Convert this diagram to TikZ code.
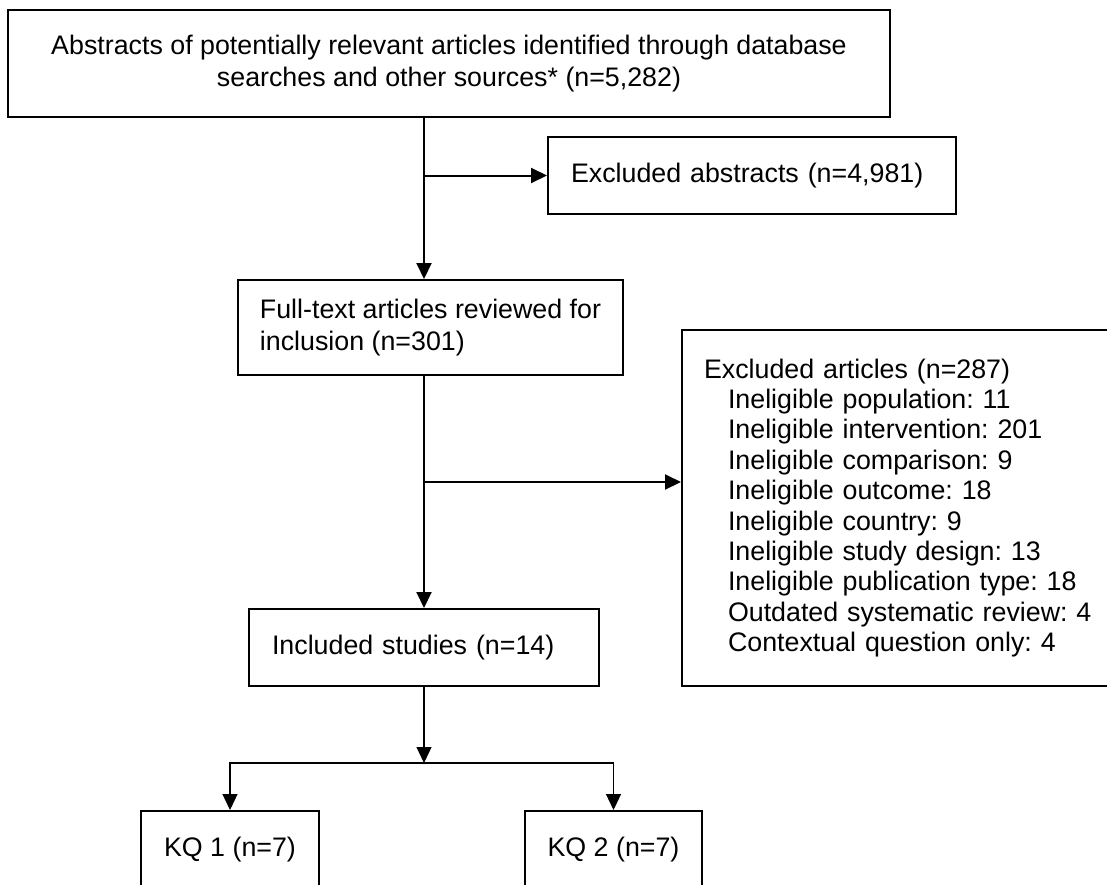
\documentclass[tikz,border=0pt]{standalone}
\usepackage{fontspec}
\setmainfont{Liberation Sans}
\usetikzlibrary{positioning}
\usetikzlibrary{calc}
\usetikzlibrary{arrows.meta}
\tikzset{
    % Solid filled arrow heads, as in the original flow chart
    >={Triangle[length=8pt,width=7.5pt]},
%
    % A plain box, text set flush left with a generous margin
    flow box/.style={
        draw, line width=1pt, rectangle, inner xsep=11.5pt,
        font=\fontsize{13.4}{16}\selectfont, align=left},
%
    % Main connectors
    flow line/.style={line width=1pt},
    % The thinner lines of the final split
    split line/.style={line width=0.6pt}}

% Indented entry of the exclusion list
\newcommand{\reasonline}[1]{\hspace*{12pt}#1}

\begin{document}
\frenchspacing
\begin{tikzpicture}[x=0.5pt, y=-0.5pt]

% page frame (the boxes at the right and bottom run off the page)
\clip (0,0) rectangle (1107,884);

\node (abstracts) [flow box, align=center,
        minimum width=441pt, minimum height=53.5pt] at (449,63.5)
    {Abstracts of potentially relevant articles identified through database\\
     searches and other sources* (n=5,282)};

\node (exclabs) [flow box, text width=181pt, minimum height=38.5pt]
    at (752,175.5) {Excluded abstracts (n=4,981)};

\node (fulltext) [flow box, inner xsep=10.5pt, minimum width=192.5pt,
        minimum height=47.5pt]
    at (430.5,327.5) {Full-text articles reviewed for\\inclusion (n=301)};

\node (exclart) [flow box, inner xsep=11pt, text width=202pt,
        minimum height=178pt, font=\fontsize{13.4}{15.2}\selectfont]
    at (906,508)
    {Excluded articles (n=287)\\
     \reasonline{Ineligible population: 11}\\
     \reasonline{Ineligible intervention: 201}\\
     \reasonline{Ineligible comparison: 9}\\
     \reasonline{Ineligible outcome: 18}\\
     \reasonline{Ineligible country: 9}\\
     \reasonline{Ineligible study design: 13}\\
     \reasonline{Ineligible publication type: 18}\\
     \reasonline{Outdated systematic review: 4}\\
     \reasonline{Contextual question only: 4}};

\node (included) [flow box, text width=152pt, minimum height=38.5pt]
    at (424,647.5) {Included studies (n=14)};

\node (kq1) [flow box, align=center, minimum width=89pt,
        minimum height=38.5pt] at (230,849.5) {KQ 1 (n=7)};
\node (kq2) [flow box, align=center, minimum width=87.5pt,
        minimum height=38.5pt] at (613.5,849.5) {KQ 2 (n=7)};

% branch points on the main line
\coordinate (split2) at (424,482);
\coordinate (fork) at (424,763);

\draw [flow line, ->] (abstracts.south -| included) -- (fulltext.north -| included);
\draw [flow line, ->] (exclabs.west -| included) -- (exclabs.west);
\draw [flow line, ->] (fulltext.south -| included) -- (included.north);
\draw [flow line, ->] (split2) -- (split2 -| exclart.west);

\draw [split line, ->] (included.south) -- (fork);
\draw [split line, ->] (fork) -| (kq1.north);
\draw [split line, ->] (fork) -| (kq2.north);

\end{tikzpicture}
\end{document}
